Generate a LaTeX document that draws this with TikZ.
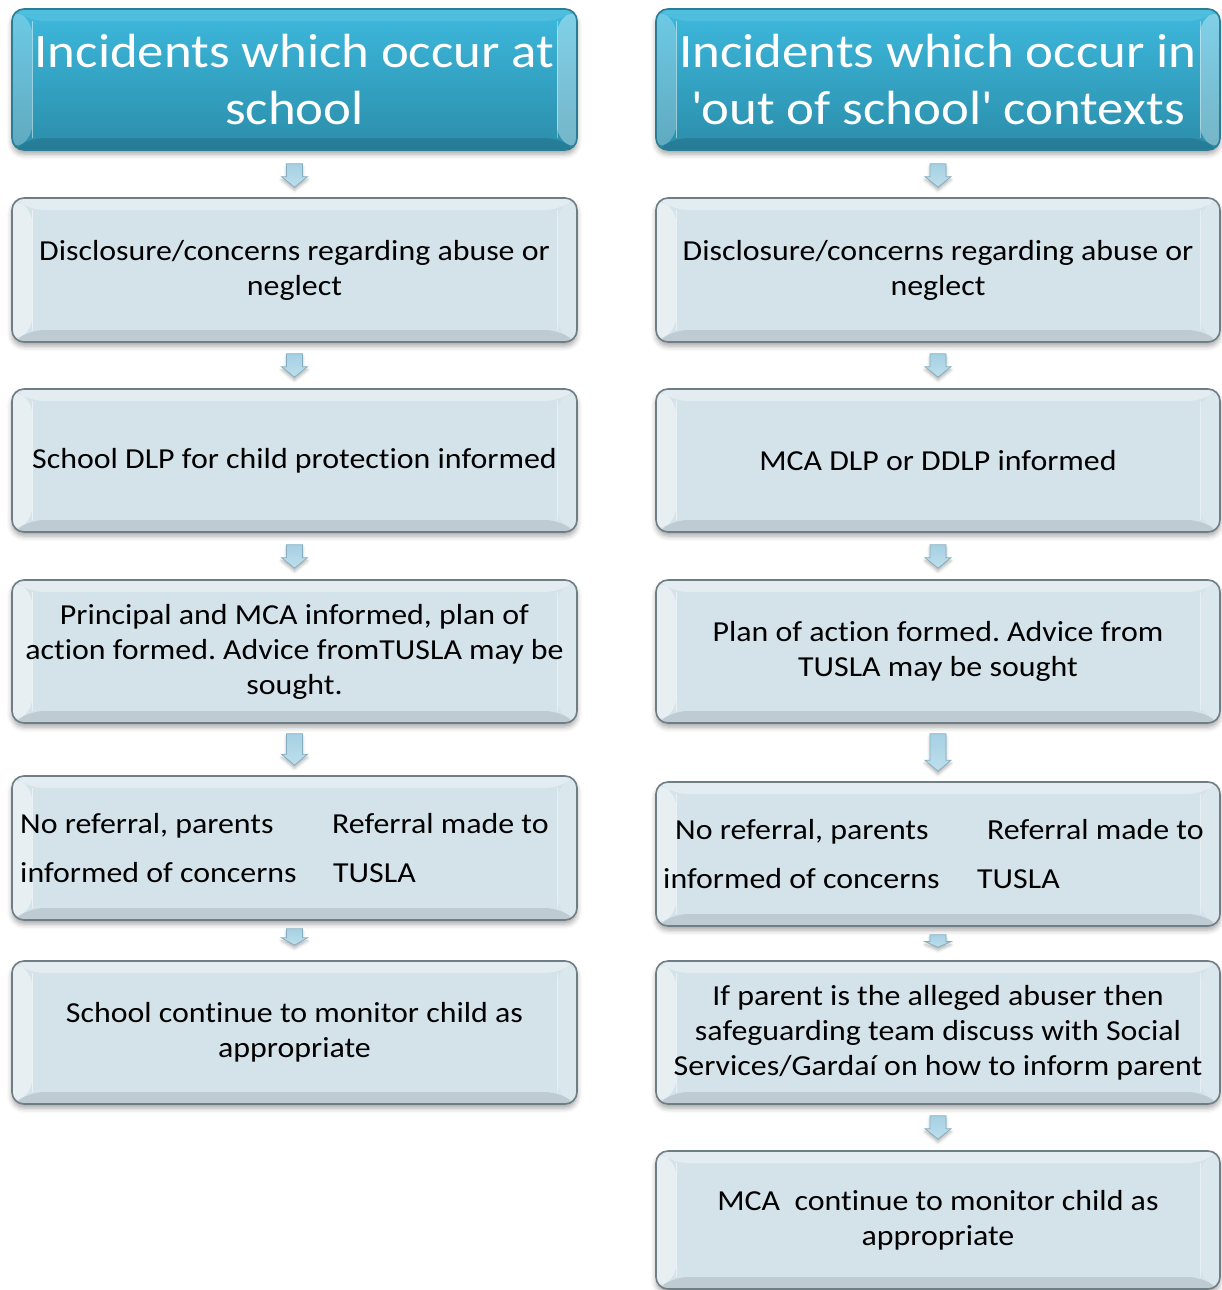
\documentclass[tikz,border=0pt]{standalone}
\usepackage{fontspec}
\setmainfont{Carlito}[FakeStretch=1.1, Ligatures={NoCommon}]
\usetikzlibrary{calc,shadows.blur}

\definecolor{panelfill}{HTML}{D4E3EA}
\definecolor{panelrim}{HTML}{6F7E85}
\definecolor{headtop}{HTML}{3DB9DD}
\definecolor{headbot}{HTML}{2B8DAA}
\definecolor{headrim}{HTML}{2A7D95}
\definecolor{arrowtop}{HTML}{A6D0E3}
\definecolor{arrowbot}{HTML}{BEDFEC}
\definecolor{arrowrim}{HTML}{86AEC0}

% bevelled faces painted inside a panel's outline
\newcommand\bevelfaces[4]{%
  \coordinate (bNW) at (path picture bounding box.north west);
  \coordinate (bNE) at (path picture bounding box.north east);
  \coordinate (bSW) at (path picture bounding box.south west);
  \coordinate (bSE) at (path picture bounding box.south east);
  \fill[white,opacity=#1] (bNW) -- (bNE) -- ($(bNE)+(-20,-12)$) -- ($(bNW)+(20,-12)$) -- cycle;
  \fill[white,opacity=#2] (bNW) -- ($(bNW)+(20,-12)$) -- ($(bSW)+(20,12)$) -- (bSW) -- cycle;
  \fill[white,opacity=#3] (bNE) -- ($(bNE)+(-20,-12)$) -- ($(bSE)+(-20,12)$) -- (bSE) -- cycle;
  \fill[black,opacity=#4] (bSW) -- ($(bSW)+(20,12)$) -- ($(bSE)+(-20,12)$) -- (bSE) -- cycle;
  \draw[white,opacity=0.5,line width=0.8pt] ($(bNW)+(20,-12)$) -- ($(bSW)+(20,12)$);
  \draw[white,opacity=0.4,line width=0.8pt] ($(bNE)+(-20,-12)$) -- ($(bSE)+(-20,12)$);
}

\tikzset{
  panel/.style={draw=panelrim, line width=1.6pt, rounded corners=12pt,
    fill=panelfill, inner sep=0pt, align=center, text=black,
    font=\fontsize{29}{35}\selectfont,
    blur shadow={shadow xshift=0pt, shadow yshift=-4pt,
      shadow blur radius=5pt, shadow opacity=35},
    path picture={\bevelfaces{0.35}{0.45}{0.15}{0.10}}},
  headpanel/.style={panel, draw=headrim, top color=headtop, bottom color=headbot,
    text=white, font=\fontsize{48}{57}\selectfont,
    path picture={\bevelfaces{0.10}{0.25}{0.35}{0.12}}},
  lineword/.style={inner sep=0pt, font=\fontsize{29}{35}\selectfont, anchor=base west},
  blockarrow/.style={draw=arrowrim, line width=0.8pt, top color=arrowtop,
    bottom color=arrowbot, line join=miter,
    blur shadow={shadow xshift=0pt, shadow yshift=-3pt,
      shadow blur radius=3pt, shadow opacity=30}},
}

% panel from its corners (x1,y1)-(x2,y2), y measured downwards
\newcommand\panelat[7]{%
  \node[#6, minimum width={#4-#2}, minimum height={#5-#3}] (#1)
    at ({(#2+#4)/2},{-(#3+#5)/2}) {#7};}

% block arrow from node #1 down to node #2, with gaps #3 and #4
\newcommand\flowarrow[4]{%
  \path let \p1=($(#1.south)+(0,-#3)$), \p2=($(#2.north)+(0,#4)$),
    \n1={min(11pt,0.45*(\y1-\y2))} in
    [blockarrow] (\x1-8pt,\y1) -- (\x1+8pt,\y1) -- (\x1+8pt,\y2+\n1)
    -- (\x1+13pt,\y2+\n1) -- (\x1,\y2) -- (\x1-13pt,\y2+\n1)
    -- (\x1-8pt,\y2+\n1) -- cycle;}

\begin{document}
\frenchspacing
\begin{tikzpicture}[x=1pt,y=1pt]
\useasboundingbox (0,0) rectangle (1221,-1290);

% left column: incidents at school
\panelat{L1}{12}{9}{577}{150}{headpanel}{Incidents which occur at\\school}
\panelat{L2}{12}{198}{577}{342}{panel}{Disclosure/concerns regarding abuse or\\neglect}
\panelat{L3}{12}{389}{577}{532}{panel}{School DLP for child protection informed}
\panelat{L4}{12}{580}{577}{723}{panel}{Principal and MCA informed, plan of\\action formed. Advice fromTUSLA may be\\sought.}
\panelat{L5}{12}{776}{577}{920}{panel}{}
\panelat{L6}{12}{961}{577}{1104}{panel}{School continue to monitor child as\\appropriate}

\node[lineword] (L5a) at (20,-833) {No referral, parents};
\node[lineword] (L5b) at (20,-882) {informed of concerns};
\node[lineword] (L5c) at (332,-833) {Referral made to};
\node[lineword] (L5d) at (333,-882) {TUSLA};

% right column: incidents out of school
\panelat{R1}{656}{9}{1220}{150}{headpanel}{Incidents which occur in\\\textquotesingle out of school\textquotesingle\ contexts}
\panelat{R2}{656}{198}{1220}{342}{panel}{Disclosure/concerns regarding abuse or\\neglect}
\panelat{R3}{656}{389}{1220}{532}{panel}{MCA DLP or DDLP informed}
\panelat{R4}{656}{580}{1220}{723}{panel}{Plan of action formed. Advice from\\TUSLA may be sought}
\panelat{R5}{656}{782}{1220}{926}{panel}{}
\panelat{R6}{656}{961}{1220}{1104}{panel}{If parent is the alleged abuser then\\safeguarding team discuss with Social\\Services/Garda\'{\i} on how to inform parent}
\panelat{R7}{656}{1151}{1220}{1289}{panel}{MCA\ \ continue to monitor child as\\appropriate}

\node[lineword] (R5a) at (675,-839) {No referral, parents};
\node[lineword] (R5b) at (663,-888) {informed of concerns};
\node[lineword] (R5c) at (987,-839) {Referral made to};
\node[lineword] (R5d) at (977,-888) {TUSLA};

% arrows between steps
\flowarrow{L1}{L2}{13}{10}
\flowarrow{L2}{L3}{11}{11}
\flowarrow{L3}{L4}{12}{11}
\flowarrow{L4}{L5}{10}{10}
\flowarrow{L5}{L6}{8}{15}

\flowarrow{R1}{R2}{13}{10}
\flowarrow{R2}{R3}{11}{11}
\flowarrow{R3}{R4}{12}{11}
\flowarrow{R4}{R5}{10}{10}
\flowarrow{R5}{R6}{8}{13}
\flowarrow{R6}{R7}{11}{11}
\end{tikzpicture}
\end{document}
